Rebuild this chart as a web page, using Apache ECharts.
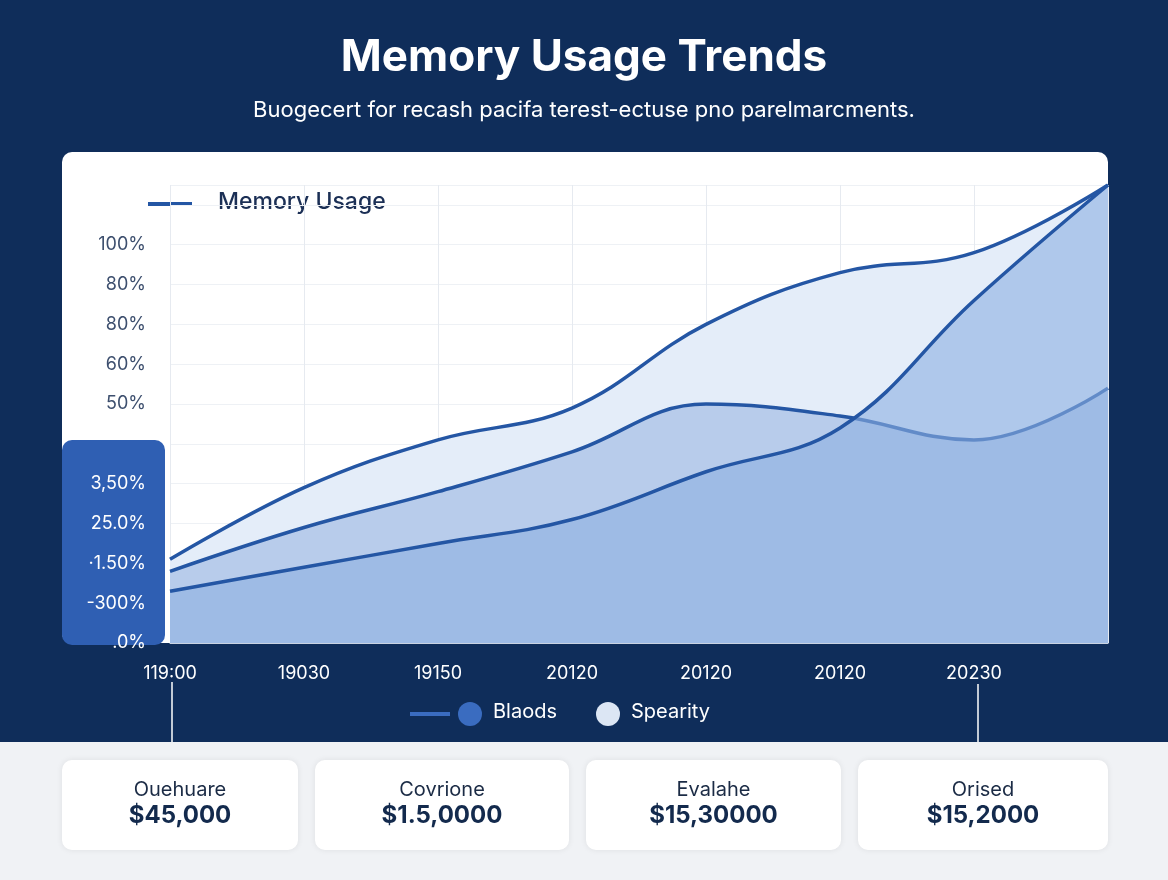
<!DOCTYPE html>
<html>
<head>
<meta charset="utf-8">
<style>
  html, body { margin: 0; padding: 0; background: #f0f2f5; }
  #chart { width: 1168px; height: 880px; }
</style>
<script src="https://cdn.jsdelivr.net/npm/echarts@6/dist/echarts.min.js"></script>
</head>
<body>
<div id="chart"></div>
<script>
// data
var categories = ['119:00', '19030', '19150', '20120', '20120', '20120', '20230', ''];
var upperValues = [21, 39, 51, 59, 80, 93, 98, 115];
var middleValues = [18, 29, 38, 48, 60, 57, 51, 64];
var lowerValues = [13, 19, 25, 31, 43, 54, 86, 115];
var yTickLabels = {0: '.0%', 10: '-300%', 20: '·1.50%', 30: '25.0%', 40: '3,50%', 60: '50%', 70: '60%', 80: '80%', 90: '80%', 100: '100%'};
var cards = [
    {label: 'Ouehuare', value: '$45,000', x: 62, w: 236},
    {label: 'Covrione', value: '$1.5,0000', x: 315, w: 254},
    {label: 'Evalahe', value: '$15,30000', x: 586, w: 255},
    {label: 'Orised', value: '$15,2000', x: 858, w: 250}
];

var font = 'Inter, "Noto Sans", sans-serif';
var lineColor = '#2456a4';

var graphics = [
    {type: 'rect', z: -10, shape: {x: 0, y: 0, width: 1168, height: 742}, style: {fill: '#0f2d5a'}},
    {type: 'rect', z: -9, shape: {x: 62, y: 152, width: 1046, height: 491, r: 10}, style: {fill: '#ffffff'}},
    {type: 'rect', z: -8, shape: {x: 62, y: 440, width: 103, height: 205, r: 10}, style: {fill: '#2f5fb3'}},
    {type: 'text', left: 'center', top: 36, style: {text: 'Memory Usage Trends', fill: '#fff', font: 'bold 44px ' + font}},
    {type: 'text', left: 'center', top: 99, style: {text: 'Buogecert for recash pacifa terest-ectuse pno parelmarcments.', fill: '#fff', font: '22px ' + font}},
    {type: 'line', shape: {x1: 148, y1: 204, x2: 192, y2: 204}, style: {stroke: lineColor, lineWidth: 4}},
    {type: 'text', left: 218, top: 191, style: {text: 'Memory Usage', fill: '#1b2f55', font: '500 23px ' + font}},
    {type: 'line', shape: {x1: 172, y1: 682, x2: 172, y2: 742}, style: {stroke: '#fff', lineWidth: 1.5}},
    {type: 'line', shape: {x1: 978, y1: 684, x2: 978, y2: 742}, style: {stroke: '#fff', lineWidth: 1.5}},
    {type: 'line', shape: {x1: 410, y1: 714, x2: 450, y2: 714}, style: {stroke: '#3a6cc0', lineWidth: 4}},
    {type: 'circle', shape: {cx: 470, cy: 714, r: 12}, style: {fill: '#3a6cc0'}},
    {type: 'text', left: 493, top: 702, style: {text: 'Blaods', fill: '#fff', font: '20px ' + font}},
    {type: 'circle', shape: {cx: 608, cy: 714, r: 12}, style: {fill: '#dce6f4'}},
    {type: 'text', left: 631, top: 702, style: {text: 'Spearity', fill: '#fff', font: '20px ' + font}}
];
cards.forEach(function (c) {
    graphics.push({type: 'rect', shape: {x: c.x, y: 760, width: c.w, height: 90, r: 10},
        style: {fill: '#fff', shadowBlur: 6, shadowColor: 'rgba(0,0,0,0.08)'}});
    graphics.push({type: 'text', x: c.x + c.w / 2, y: 780, style: {text: c.label, fill: '#1b2b45', font: '20px ' + font, textAlign: 'center'}});
    graphics.push({type: 'text', x: c.x + c.w / 2, y: 804, style: {text: c.value, fill: '#132a4d', font: 'bold 24px ' + font, textAlign: 'center'}});
});

function areaSeries(name, data, fill, z) {
    return {
        name: name, type: 'line', data: data, smooth: 0.4, symbol: 'none', z: z,
        lineStyle: {color: lineColor, width: 3.5},
        areaStyle: {color: fill, opacity: 1}
    };
}

var chart = echarts.init(document.getElementById('chart'));
chart.setOption({
    animation: false,
    graphic: graphics,
    grid: {left: 170, right: 60, top: 185, bottom: 237},
    xAxis: {
        type: 'category', data: categories, boundaryGap: false,
        axisLine: {show: true, lineStyle: {color: '#c9d3e2'}}, axisTick: {show: false},
        axisLabel: {color: '#fff', fontSize: 18, fontFamily: font, margin: 22, align: 'center'},
        splitLine: {show: true, lineStyle: {color: '#e6eaf0'}}
    },
    yAxis: {
        type: 'value', min: 0, max: 115, interval: 10,
        axisLine: {show: false}, axisTick: {show: false},
        axisLabel: {
            fontSize: 18, fontFamily: font, margin: 24,
            formatter: function (v) { return yTickLabels[v] || ''; },
            color: function (v) { return v <= 40 ? '#ffffff' : '#3d4f6e'; }
        },
        splitLine: {show: true, lineStyle: {color: '#eef1f5'}}
    },
    series: [
        areaSeries('Upper', upperValues, '#e4edf9', 2),
        areaSeries('Middle', middleValues, '#b8cceb', 3),
        areaSeries('Lower', lowerValues, 'rgba(140,175,225,0.6)', 4)
    ]
});
</script>
</body>
</html>
